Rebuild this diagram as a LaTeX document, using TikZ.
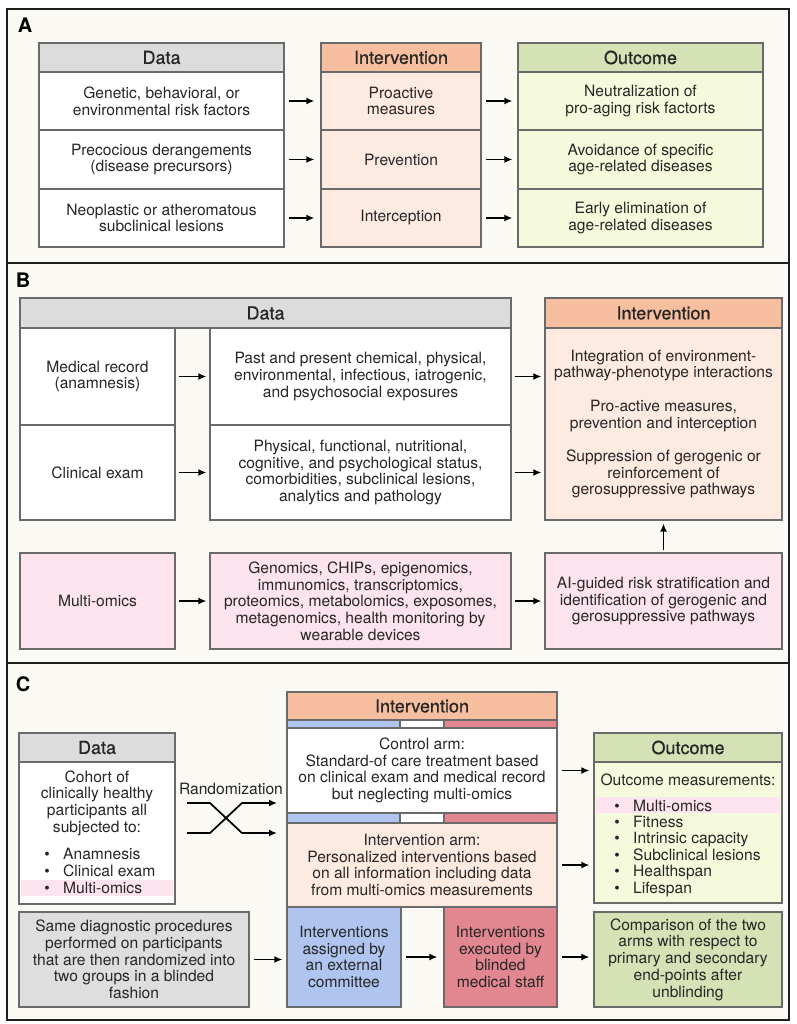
\documentclass[tikz,border=0pt]{standalone}
\usepackage{fontspec}
\setmainfont{TeX Gyre Heros}
\newfontface\hdrfont{TeX Gyre Heros}[FakeBold=0.6]
\usetikzlibrary{arrows.meta,calc}
\definecolor{cream}{HTML}{FAF9F4}
\definecolor{framec}{HTML}{1E1E1E}
\definecolor{bord}{HTML}{6A6A6A}
\definecolor{hgray}{HTML}{DCDCDC}
\definecolor{salmon}{HTML}{F7BF9F}
\definecolor{peach}{HTML}{FDEBE2}
\definecolor{ghead}{HTML}{D4E2B5}
\definecolor{gbody}{HTML}{F6FADC}
\definecolor{pinkc}{HTML}{FCE3EE}
\definecolor{bluec}{HTML}{AFC4EE}
\definecolor{redc}{HTML}{E2878F}
\definecolor{cgray}{HTML}{DEDEDE}
\definecolor{txt}{HTML}{262626}
\newcommand{\mybox}[7]{%
  \pgfmathsetmacro\bxw{#4-#2}%
  \pgfmathsetmacro\bxh{#5-#3}%
  \pgfmathsetmacro\bxcx{(#2+#4)/2}%
  \pgfmathsetmacro\bxcy{(#3+#5)/2}%
  \node[#6, minimum width=\bxw pt, minimum height=\bxh pt] (#1) at (\bxcx,\bxcy) {#7};}
\tikzset{
  base/.style={draw=bord, line width=1.2pt, inner sep=0pt, align=center, text=txt, font=\fontsize{15.6}{16.7}\selectfont},
  hdr/.style={base, font=\hdrfont\fontsize{18}{20}\selectfont},
  cell/.style={base},
  stripe/.style={draw=bord, line width=1.2pt, inner sep=0pt},
  lbl/.style={text=txt, inner sep=0pt, align=center, font=\fontsize{15.6}{16.7}\selectfont},
  plabel/.style={text=black, inner sep=0pt, font=\fontsize{20}{22}\selectfont\bfseries},
  arr/.style={-{Latex[length=8pt,width=7pt]}, line width=1.7pt, black},
  panel/.style={draw=framec, line width=2.2pt, fill=cream},
}
\begin{document}
\begin{tikzpicture}[x=1pt,y=-1pt]
\fill[white] (0,0) rectangle (796,1024);
\useasboundingbox (0,0) rectangle (796,1024);
% panels
\draw[panel] (7,9) rectangle (789,263);
\draw[panel] (7,263) rectangle (789,663);
\draw[panel] (7,663) rectangle (789,1020);
\node[plabel] (pA) at (25,25) {A};
\node[plabel] (pB) at (23,280) {B};
\node[plabel] (pC) at (23,684) {C};
% ---------------- Panel A
\mybox{ah}{39}{43}{284}{72}{hdr, fill=hgray}{Data}
\mybox{ad1}{39}{72}{284}{130}{cell, fill=white}{Genetic, behavioral, or\\environmental risk factors}
\mybox{ad2}{39}{130}{284}{189}{cell, fill=white}{Precocious derangements\\(disease precursors)}
\mybox{ad3}{39}{189}{284}{247}{cell, fill=white}{Neoplastic or atheromatous\\subclinical lesions}
\mybox{aih}{321}{43}{481}{72}{hdr, fill=salmon}{Intervention}
\mybox{ai1}{321}{72}{481}{130}{cell, fill=peach}{Proactive\\measures}
\mybox{ai2}{321}{130}{481}{189}{cell, fill=peach}{Prevention}
\mybox{ai3}{321}{189}{481}{247}{cell, fill=peach}{Interception}
\mybox{aoh}{518}{43}{763}{72}{hdr, fill=ghead}{Outcome}
\mybox{ao1}{518}{72}{763}{130}{cell, fill=gbody}{Neutralization of\\pro-aging risk factorts}
\mybox{ao2}{518}{130}{763}{189}{cell, fill=gbody}{Avoidance of specific\\age-related diseases}
\mybox{ao3}{518}{189}{763}{247}{cell, fill=gbody}{Early elimination of\\age-related diseases}
\foreach \i in {1,2,3}{
  \draw[arr, shorten <=4pt, shorten >=6pt] (ad\i.east) -- (ai\i.west);
  \draw[arr, shorten <=4pt, shorten >=5pt] (ai\i.east) -- (ao\i.west);
}
% ---------------- Panel B
\mybox{bh}{20}{298}{511}{328}{hdr, fill=hgray}{Data}
\mybox{bm}{20}{328}{175}{425}{cell, fill=white}{Medical record\\(anamnesis)}
\mybox{bc}{20}{425}{175}{520}{cell, fill=white}{Clinical exam}
\mybox{bx}{210}{328}{511}{425}{cell, fill=white}{Past and present chemical, physical,\\environmental, infectious, iatrogenic,\\and psychosocial exposures}
\mybox{bp}{210}{425}{511}{520}{cell, fill=white}{Physical, functional, nutritional,\\cognitive, and psychological status,\\comorbidities, subclinical lesions,\\analytics and pathology}
\mybox{bih}{545}{298}{782}{328}{hdr, fill=salmon}{Intervention}
\mybox{bib}{545}{328}{782}{520}{cell, fill=peach}{Integration of environment-\\pathway-phenotype interactions\\[16.7pt]Pro-active measures,\\prevention and interception\\[16.7pt]Suppression of gerogenic or\\reinforcement of\\gerosuppressive pathways}
\mybox{bmo}{20}{553}{175}{649}{cell, fill=pinkc}{Multi-omics}
\mybox{bgo}{210}{553}{511}{649}{cell, fill=pinkc}{Genomics, CHIPs, epigenomics,\\immunomics, transcriptomics,\\proteomics, metabolomics, exposomes,\\metagenomics, health monitoring by\\wearable devices}
\mybox{bai}{545}{553}{782}{649}{cell, fill=pinkc}{AI-guided risk stratification and\\identification of gerogenic and\\gerosuppressive pathways}
\draw[arr, shorten <=3pt, shorten >=3pt] (bm.east) -- (bx.west);
\draw[arr, shorten <=3pt, shorten >=3pt] (bc.east) -- (bp.west);
\draw[arr, shorten <=3pt, shorten >=3pt] (bmo.east) -- (bgo.west);
\draw[arr, shorten <=3pt, shorten >=3pt] (bx.east) -- (bx.east -| bib.west);
\draw[arr, shorten <=3pt, shorten >=3pt] (bp.east) -- (bp.east -| bib.west);
\draw[arr, shorten <=3pt, shorten >=3pt] (bgo.east) -- (bai.west);
\draw[arr, shorten <=2pt, shorten >=3pt] (bai.north) -- (bib.south);
% ---------------- Panel C
\mybox{cdh}{19}{733}{175}{762}{hdr, fill=hgray}{Data}
\mybox{cdb}{19}{762}{175}{904}{cell, fill=white}{}
\fill[pinkc] (21,880) rectangle (173,896);
\node[lbl] (cdt) at (97,803) {Cohort of\\clinically healthy\\participants all\\subjected to:};
\node[lbl, anchor=base] (cb1) at (47,859) {\textbullet};
\node[lbl, anchor=base west] (ct1) at (63,859) {Anamnesis};
\node[lbl, anchor=base] (cb2) at (47,876) {\textbullet};
\node[lbl, anchor=base west] (ct2) at (63,876) {Clinical exam};
\node[lbl, anchor=base] (cb3) at (47,893) {\textbullet};
\node[lbl, anchor=base west] (ct3) at (63,893) {Multi-omics};
\mybox{cih}{287}{692}{557}{720}{hdr, fill=salmon}{Intervention}
\mybox{s1a}{287}{720}{400}{728}{stripe, fill=bluec}{}
\mybox{s1b}{400}{720}{444}{728}{stripe, fill=white}{}
\mybox{s1c}{444}{720}{557}{728}{stripe, fill=redc}{}
\mybox{cctl}{287}{728}{557}{813}{cell, fill=white}{Control arm:\\Standard-of care treatment based\\on clinical exam and medical record\\but neglecting multi-omics}
\mybox{s2a}{287}{813}{400}{823}{stripe, fill=bluec}{}
\mybox{s2b}{400}{813}{444}{823}{stripe, fill=white}{}
\mybox{s2c}{444}{813}{557}{823}{stripe, fill=redc}{}
\mybox{carm}{287}{823}{557}{907}{cell, fill=peach}{Intervention arm:\\Personalized interventions based\\on all information including data\\from multi-omics measurements}
\mybox{cbl}{287}{907}{401}{1007}{cell, fill=bluec}{Interventions\\assigned by\\an external\\committee}
\mybox{crd}{444}{907}{557}{1007}{cell, fill=redc}{Interventions\\executed by\\blinded\\medical staff}
\mybox{csd}{19}{912}{249}{1007}{cell, fill=cgray}{Same diagnostic procedures\\performed on participants\\that are then randomized into\\two groups in a blinded\\fashion}
\mybox{coh}{594}{733}{782}{762}{hdr, fill=ghead}{Outcome}
\mybox{cob}{594}{762}{782}{903}{cell, fill=gbody}{}
\fill[pinkc] (596,797) rectangle (780,813);
\node[lbl] (com) at (688,780) {Outcome measurements:};
\foreach \n/\t/\yy in {1/Multi-omics/811, 2/Fitness/827, 3/Intrinsic capacity/843, 4/Subclinical lesions/860, 5/Healthspan/876, 6/Lifespan/893}{
  \node[lbl, anchor=base] (ob\n) at (617,\yy) {\textbullet};
  \node[lbl, anchor=base west] (ot\n) at (633,\yy) {\t};
}
\mybox{ccp}{594}{912}{782}{1007}{cell, fill=ghead}{Comparison of the two\\arms with respect to\\primary and secondary\\end-points after\\unblinding}
% randomization
\node[lbl] (rnd) at (231,789) {Randomization};
\coordinate (ra) at (187,803);
\coordinate (rb) at (187,833);
\coordinate (rau) at (210,803);
\coordinate (rbu) at (210,833);
\coordinate (rad) at (242,833);
\coordinate (rbd) at (242,803);
\coordinate (rae) at (277,833);
\coordinate (rbe) at (277,803);
\draw[arr, line join=round] (ra) -- (rau) -- (rad) -- (rae);
\draw[arr, line join=round] (rb) -- (rbu) -- (rbd) -- (rbe);
\draw[arr, shorten <=4pt, shorten >=4pt] (cctl.east) -- (cctl.east -| cob.west);
\draw[arr, shorten <=4pt, shorten >=4pt] (carm.east) -- (carm.east -| cob.west);
\draw[arr, shorten <=4pt, shorten >=4pt] (csd.east) -- (csd.east -| cbl.west);
\draw[arr, shorten <=4pt, shorten >=6pt] (cbl.east) -- (crd.west);
\draw[arr, shorten <=4pt, shorten >=4pt] (crd.east) -- (crd.east -| ccp.west);
\end{tikzpicture}
\end{document}
